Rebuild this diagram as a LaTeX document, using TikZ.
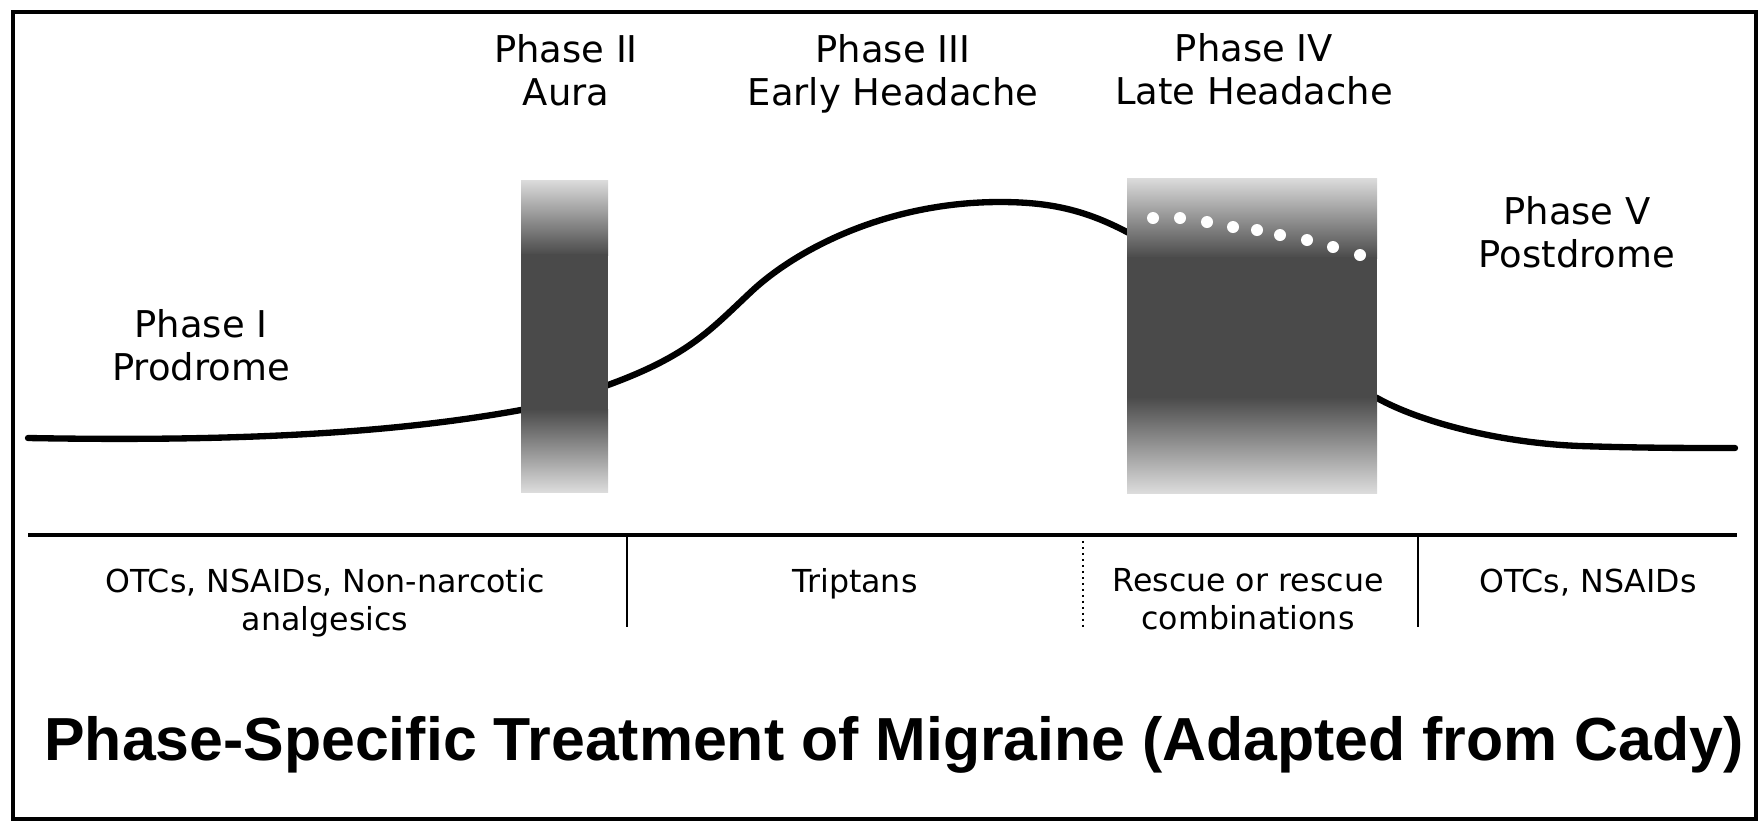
\documentclass[tikz,border=0pt]{standalone}
\usepackage{fontspec}
\setmainfont{DejaVu Sans}
\newfontfamily\titlefont{Liberation Sans}
\usepackage{xcolor}
\usepackage{tikz}
\usetikzlibrary{positioning}
\definecolor{shadedark}{HTML}{4A4A4A}
\definecolor{shadelight}{HTML}{DCDCDC}

\begin{document}
\begin{tikzpicture}[
    phaselabel/.style={align=center, font=\fontsize{10.5}{12.2}\selectfont, inner sep=0pt},
    druglabel/.style={align=center, font=\fontsize{9}{10.8}\selectfont, inner sep=0pt},
    divider/.style={line width=0.7pt}]
    \useasboundingbox (0,0) rectangle (17.63,-8.22);
    \draw[line width=1pt] (0.13,-0.12) rectangle (17.56,-8.19);

    % migraine curve
    \draw[line width=1.8pt, line cap=round] (0.28,-4.38)
      .. controls (2.5,-4.42) and (4.0,-4.32) .. (5.21,-4.10)
      .. controls (5.5,-4.04) and (5.8,-3.95) .. (6.08,-3.85)
      .. controls (6.9,-3.55) and (7.1,-3.30) .. (7.53,-2.90)
      .. controls (8.0,-2.47) and (8.9,-2.02) .. (10.0,-2.02)
      .. controls (10.5,-2.02) and (10.85,-2.10) .. (11.27,-2.32)
      .. controls (12.0,-2.70) and (13.0,-3.70) .. (13.77,-3.98)
      .. controls (14.2,-4.22) and (15.0,-4.43) .. (15.80,-4.46)
      .. controls (16.4,-4.48) and (16.9,-4.48) .. (17.35,-4.48);

    % phase II band
    \shade[top color=shadelight, bottom color=shadedark] (5.21,-1.80) rectangle (6.08,-2.55);
    \fill[shadedark] (5.21,-2.54) rectangle (6.08,-4.10);
    \shade[top color=shadedark, bottom color=shadelight] (5.21,-4.09) rectangle (6.08,-4.92);

    % phase IV band
    \shade[top color=shadelight, bottom color=shadedark] (11.27,-1.78) rectangle (13.77,-2.58);
    \fill[shadedark] (11.27,-2.57) rectangle (13.77,-3.98);
    \shade[top color=shadedark, bottom color=shadelight] (11.27,-3.97) rectangle (13.77,-4.93);
    \foreach \x/\y in {11.53/2.18, 11.80/2.18, 12.07/2.22, 12.33/2.27, 12.57/2.30,
                       12.80/2.35, 13.07/2.40, 13.33/2.47, 13.60/2.55}
      \fill[white] (\x,-\y) circle (0.06);

    \node[phaselabel] (prodrome) at (2.01,-3.45) {Phase I\\Prodrome};
    \node[phaselabel] (aura) at (5.66,-0.70) {Phase II\\Aura};
    \node[phaselabel] (early) at (8.93,-0.74) {Phase III\\Early Headache};
    \node[phaselabel] (late) at (12.54,-0.695) {Phase IV\\Late Headache};
    \node[phaselabel] (postdrome) at (15.77,-2.32) {Phase V\\Postdrome};

    % treatment row
    \draw[line width=1.2pt] (0.28,-5.35) -- (17.37,-5.35);
    \draw[divider] (6.27,-5.35) -- (6.27,-6.27);
    \draw[divider, densely dotted] (10.83,-5.35) -- (10.83,-6.27);
    \draw[divider] (14.18,-5.35) -- (14.18,-6.27);

    \node[druglabel] (otcs) at (3.25,-6.025) {OTCs, NSAIDs, Non-narcotic\\analgesics};
    \node[druglabel] (triptans) at (8.55,-5.835) {Triptans};
    \node[druglabel] (rescue) at (12.48,-5.99) {Rescue or rescue\\combinations};
    \node[druglabel] (otcsb) at (15.88,-5.825) {OTCs, NSAIDs};

    \node[font=\titlefont\bfseries\fontsize{17.3}{20}\selectfont, inner sep=0pt] (title) at (8.94,-7.445)
      {Phase-Specific Treatment of Migraine (Adapted from Cady)};
\end{tikzpicture}
\end{document}
